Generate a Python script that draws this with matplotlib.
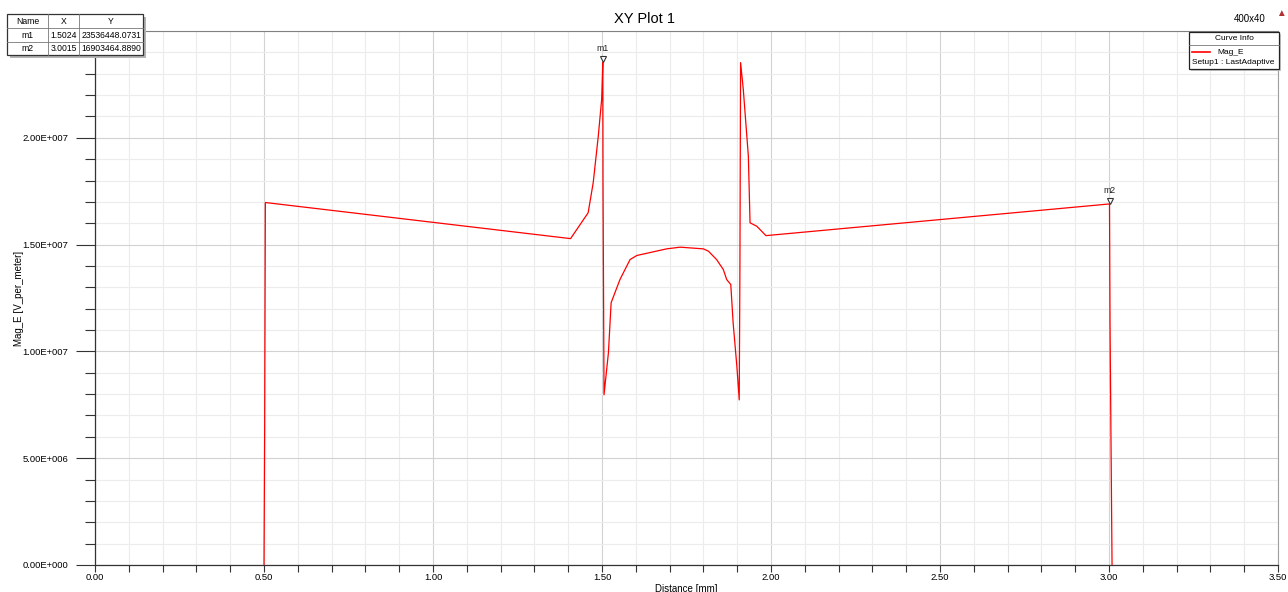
import matplotlib
matplotlib.use("Agg")
import matplotlib.pyplot as plt
from matplotlib.patches import Rectangle
from matplotlib.lines import Line2D
from matplotlib.ticker import MultipleLocator, FuncFormatter
from matplotlib.transforms import offset_copy

plt.rcParams["font.family"] = ["Liberation Sans", "DejaVu Sans"]

# Mag_E along the cut line (distance in mm, field in V/m)
distance_mm = [0.500, 0.502, 0.504, 1.407, 1.459, 1.474, 1.489, 1.499, 1.5024,
               1.503, 1.506, 1.519, 1.527, 1.553, 1.583, 1.603, 1.691, 1.731,
               1.800, 1.815, 1.839, 1.859, 1.869, 1.881, 1.888, 1.899, 1.906,
               1.908, 1.910, 1.918, 1.933, 1.938, 1.958, 1.985, 3.0015, 3.003,
               3.009]
mag_e = [0.0, 6.5e6, 16.97e6, 15.28e6, 16.49e6, 17.9e6, 20.08e6, 21.8e6,
         23536448.0731, 17.9e6, 7.97e6, 9.94e6, 12.28e6, 13.36e6, 14.3e6,
         14.49e6, 14.8e6, 14.88e6, 14.80e6, 14.69e6, 14.3e6, 13.83e6, 13.36e6,
         13.13e6, 11.33e6, 9.3e6, 7.73e6, 13.8e6, 23.52e6, 22.27e6, 19.14e6,
         16.02e6, 15.86e6, 15.42e6, 16903464.8890, 11.33e6, 0.0]

# markers
marker_names = ["m1", "m2"]
marker_x = [1.5024, 3.0015]
marker_y = [23536448.0731, 16903464.8890]

W, H = 1288, 592
fig = plt.figure(figsize=(W / 100, H / 100), dpi=100)


def fx(px):
    return px / W


def fy(py):
    return 1 - py / H


ax = fig.add_axes([fx(95), fy(565), fx(1278) - fx(95), fy(31) - fy(565)])
ax.plot(distance_mm, mag_e, color="#ff0000", lw=0.9, zorder=3)

ax.set_xlim(0, 3.5)
ax.set_ylim(0, 2.5e7)
ax.xaxis.set_major_locator(MultipleLocator(0.5))
ax.xaxis.set_minor_locator(MultipleLocator(0.1))
ax.yaxis.set_major_locator(MultipleLocator(5e6))
ax.yaxis.set_minor_locator(MultipleLocator(1e6))


def sci_fmt(v, pos):
    # 2.00E+007 style, three-digit exponent; top label sits under the table
    if v >= 2.5e7 - 1:
        return ""
    if v == 0:
        return "0.00E+000"
    s = "%.2E" % v
    mant, exp = s.split("E")
    sign = exp[0]
    return "%sE%s%03d" % (mant, sign, abs(int(exp)))


ax.yaxis.set_major_formatter(FuncFormatter(sci_fmt))
ax.xaxis.set_major_formatter(FuncFormatter(lambda v, p: "%.2f" % v))

ax.grid(which="major", color="#d2d2d2", lw=0.8)
ax.grid(which="minor", color="#ececec", lw=0.8)
ax.set_axisbelow(True)

ax.tick_params(axis="x", which="both", direction="out", length=5, width=0.8,
               color="#333333", labelsize=6.8, pad=1)
ax.tick_params(axis="y", which="major", direction="out", length=14, width=0.8,
               color="#333333", labelsize=6.8, pad=5)
ax.tick_params(axis="y", which="minor", direction="out", length=7, width=0.8,
               color="#333333")

for side in ("left", "bottom"):
    ax.spines[side].set_color("#333333")
    ax.spines[side].set_linewidth(0.9)
ax.spines["top"].set_color("#808080")
ax.spines["right"].set_color("#a0a0a0")

ax.set_xlabel("Distance [mm]", fontsize=7, labelpad=1)
ax.set_ylabel("Mag_E [V_per_meter]", fontsize=7, labelpad=-1)

# marker triangles sitting above the points
tri = offset_copy(ax.transData, fig=fig, x=0, y=3, units="dots")
for name, mx, my in zip(marker_names, marker_x, marker_y):
    ax.plot([mx], [my], marker="v", ms=4.5, mfc="white", mec="#333333",
            mew=0.8, transform=tri, zorder=5, clip_on=False)
    ax.annotate(name, (mx, my), xytext=(0, 9), textcoords="offset pixels",
                ha="center", va="bottom", fontsize=6.3, color="#222222",
                zorder=5)

# title and header texts
fig.text(fx(645), fy(19), "XY Plot 1", ha="center", va="center", fontsize=10.5)
fig.text(fx(1250), fy(19), "400x40", ha="center", va="center", fontsize=7)
fig.text(fx(1281), fy(13), "\u25b2", ha="center", va="center", fontsize=7,
         color="#b03030")

# marker table, top-left
tx0, tx1, tx2, tx3 = 7, 48, 79, 143
ty = [14, 28, 42, 55]
fig.patches.append(Rectangle((fx(tx0 + 3), fy(ty[-1] + 3)), fx(tx3 - tx0),
                             fy(ty[0]) - fy(ty[-1]), transform=fig.transFigure,
                             facecolor="#b4b4b4", edgecolor="none", zorder=1))
fig.patches.append(Rectangle((fx(tx0), fy(ty[-1])), fx(tx3 - tx0),
                             fy(ty[0]) - fy(ty[-1]), transform=fig.transFigure,
                             facecolor="white", edgecolor="#333333", lw=0.9,
                             zorder=2))
for yy in ty[1:-1]:
    fig.lines.append(Line2D([fx(tx0), fx(tx3)], [fy(yy), fy(yy)],
                            transform=fig.transFigure, color="#777777", lw=0.6,
                            zorder=3))
for xx in (tx1, tx2):
    fig.lines.append(Line2D([fx(xx), fx(xx)], [fy(ty[0]), fy(ty[-1])],
                            transform=fig.transFigure, color="#777777", lw=0.6,
                            zorder=3))
rows = [("Name", "X", "Y")]
for name, mx, my in zip(marker_names, marker_x, marker_y):
    rows.append((name, "%.4f" % mx, "%.4f" % my))
for i, (a, b, c) in enumerate(rows):
    yc = fy((ty[i] + ty[i + 1]) / 2)
    fig.text(fx((tx0 + tx1) / 2), yc, a, ha="center", va="center", fontsize=6.2)
    if i == 0:
        fig.text(fx((tx1 + tx2) / 2), yc, b, ha="center", va="center", fontsize=6.2)
        fig.text(fx((tx2 + tx3) / 2), yc, c, ha="center", va="center", fontsize=6.2)
    else:
        fig.text(fx(tx2 - 2), yc, b, ha="right", va="center", fontsize=6.2)
        fig.text(fx(tx3 - 2), yc, c, ha="right", va="center", fontsize=6.2)

# curve info legend, top-right
lx0, lx1, ly0, ly1, ysep = 1189, 1279, 32, 69, 45
fig.patches.append(Rectangle((fx(lx0 + 2), fy(ly1 + 2)), fx(lx1 - lx0),
                             fy(ly0) - fy(ly1), transform=fig.transFigure,
                             facecolor="#c8c8c8", edgecolor="none", zorder=1))
fig.patches.append(Rectangle((fx(lx0), fy(ly1)), fx(lx1 - lx0),
                             fy(ly0) - fy(ly1), transform=fig.transFigure,
                             facecolor="white", edgecolor="#222222", lw=0.9,
                             zorder=2))
fig.lines.append(Line2D([fx(lx0), fx(lx1)], [fy(ysep), fy(ysep)],
                        transform=fig.transFigure, color="#777777", lw=0.6,
                        zorder=3))
fig.text(fx((lx0 + lx1) / 2), fy(38.5), "Curve Info", ha="center", va="center",
         fontsize=6, zorder=4)
fig.lines.append(Line2D([fx(1192), fx(1210)], [fy(52), fy(52)],
                        transform=fig.transFigure, color="#ff0000", lw=1.2,
                        zorder=4))
fig.text(fx(1217), fy(52), "Mag_E", ha="left", va="center", fontsize=6, zorder=4)
fig.text(fx(1192), fy(62), "Setup1 : LastAdaptive", ha="left", va="center",
         fontsize=6, zorder=4)

fig.savefig("out.png", dpi=100)
plt.close(fig)
